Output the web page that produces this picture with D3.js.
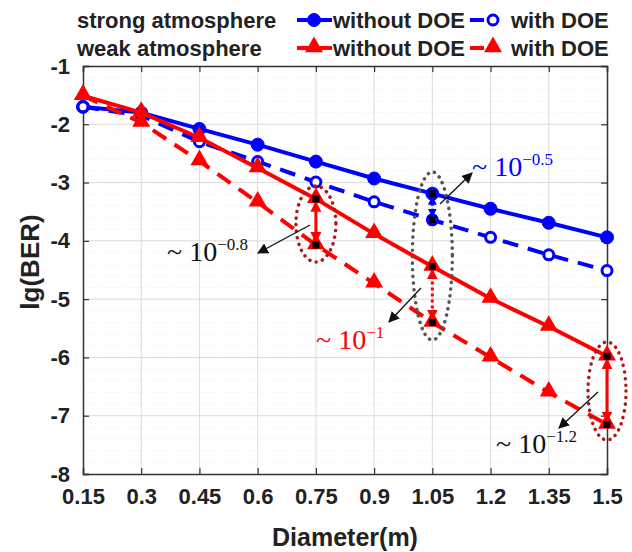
<!DOCTYPE html>
<html>
<head>
<meta charset="utf-8">
<script src="https://cdn.jsdelivr.net/npm/d3@7"></script>
<style>
  body { margin: 0; background: #fff; }
  svg { display: block; }
</style>
</head>
<body>
<div id="chart"></div>
<script>
// Data
var diameters = [0.15, 0.3, 0.45, 0.6, 0.75, 0.9, 1.05, 1.2, 1.35, 1.5];
var strongNoDoe = [-1.70, -1.80, -2.08, -2.35, -2.64, -2.93, -3.19, -3.45, -3.69, -3.94];
var strongDoe = [-1.70, -1.85, -2.30, -2.64, -2.99, -3.33, -3.64, -3.94, -4.24, -4.51];
var weakNoDoe = [-1.51, -1.80, -2.23, -2.75, -3.28, -3.88, -4.44, -4.99, -5.47, -5.98];
var weakDoe = [-1.51, -1.97, -2.63, -3.34, -4.07, -4.73, -5.40, -6.00, -6.60, -7.15];
var xTicks = [0.15, 0.3, 0.45, 0.6, 0.75, 0.9, 1.05, 1.2, 1.35, 1.5];
var yTicks = [-1, -2, -3, -4, -5, -6, -7, -8];

var chart_width = 632;
var chart_height = 552;
var blue = '#0000ff';
var red = '#ff0000';

var svg = d3.select('#chart')
  .append('svg')
  .attr('width', chart_width)
  .attr('height', chart_height)
  .style('font-family', '"Liberation Sans", Arial, sans-serif');

var xScale = d3.scaleLinear().domain([0.15, 1.5]).range([83, 607]);
var yScale = d3.scaleLinear().domain([-1, -8]).range([66, 474]);

// arrow heads
var defs = svg.append('defs');
function arrowHead(id, color, w) {
  defs.append('marker')
    .attr('id', id)
    .attr('viewBox', '0 0 10 10')
    .attr('refX', 9).attr('refY', 5)
    .attr('markerWidth', w).attr('markerHeight', w)
    .attr('markerUnits', 'userSpaceOnUse')
    .attr('orient', 'auto-start-reverse')
    .append('path')
    .attr('d', 'M0,0 L10,5 L0,10 z')
    .attr('fill', color);
}
arrowHead('ahBlack', '#111', 11);
arrowHead('ahRed', red, 11);
arrowHead('ahBlue', blue, 9);

// grid
var grid = svg.append('g');
grid.selectAll('.ymin')
  .data(d3.range(-1, -8, -0.2))
  .enter().append('line')
  .attr('x1', xScale(0.15)).attr('x2', xScale(1.5))
  .attr('y1', d => yScale(d)).attr('y2', d => yScale(d))
  .attr('stroke', '#ececec').attr('stroke-dasharray', '1,2');
grid.selectAll('.xg')
  .data(xTicks.slice(1, -1))
  .enter().append('line')
  .attr('x1', d => xScale(d)).attr('x2', d => xScale(d))
  .attr('y1', yScale(-1)).attr('y2', yScale(-8))
  .attr('stroke', '#dcdcdc');
grid.selectAll('.yg')
  .data(yTicks.slice(1, -1))
  .enter().append('line')
  .attr('x1', xScale(0.15)).attr('x2', xScale(1.5))
  .attr('y1', d => yScale(d)).attr('y2', d => yScale(d))
  .attr('stroke', '#dcdcdc');

// axes
var xAxis = d3.axisBottom(xScale).tickValues(xTicks).tickSize(-6).tickPadding(14).tickFormat(d => String(d));
var yAxis = d3.axisLeft(yScale).tickValues(yTicks).tickSize(-6).tickPadding(13).tickFormat(d => String(d));
var gx = svg.append('g').attr('transform', 'translate(0,' + yScale(-8) + ')').call(xAxis);
var gy = svg.append('g').attr('transform', 'translate(' + xScale(0.15) + ',0)').call(yAxis);
svg.append('g').attr('transform', 'translate(0,' + yScale(-1) + ')')
  .call(d3.axisTop(xScale).tickValues(xTicks).tickSize(-6).tickFormat(''));
svg.append('g').attr('transform', 'translate(' + xScale(1.5) + ',0)')
  .call(d3.axisRight(yScale).tickValues(yTicks).tickSize(-6).tickFormat(''));
svg.selectAll('.domain').attr('stroke', '#333').attr('stroke-width', 1.5);
svg.selectAll('.tick line').attr('stroke', '#333').attr('stroke-width', 1.2);
gx.selectAll('text').attr('font-size', 22).attr('font-weight', 'bold').attr('fill', '#222')
  .attr('font-family', '"Liberation Sans", Arial, sans-serif');
gy.selectAll('text').attr('font-size', 22).attr('font-weight', 'bold').attr('fill', '#222')
  .attr('font-family', '"Liberation Sans", Arial, sans-serif');

svg.append('text')
  .attr('x', 345).attr('y', 546)
  .attr('text-anchor', 'middle')
  .attr('font-size', 25).attr('font-weight', 'bold').attr('fill', '#222')
  .text('Diameter(m)');
svg.append('text')
  .attr('transform', 'translate(39,262) rotate(-90)')
  .attr('text-anchor', 'middle')
  .attr('font-size', 26).attr('font-weight', 'bold').attr('fill', '#222')
  .text('lg(BER)');

// series
var series = [
  { vals: strongNoDoe, color: blue, dash: null, shape: 'circle', open: false },
  { vals: strongDoe, color: blue, dash: '16,10', shape: 'circle', open: true },
  { vals: weakNoDoe, color: red, dash: null, shape: 'tri', open: false },
  { vals: weakDoe, color: red, dash: '16,10', shape: 'tri', open: false }
];
var line = d3.line().x(d => xScale(d[0])).y(d => yScale(d[1]));
var tri = d3.symbol().type(d3.symbolTriangle).size(140);

function drawMarker(g, s, cx, cy) {
  if (s.shape === 'circle') {
    g.append('circle')
      .attr('cx', cx).attr('cy', cy)
      .attr('r', s.open ? 5 : 6.5)
      .attr('fill', s.open ? '#fff' : s.color)
      .attr('stroke', s.color).attr('stroke-width', s.open ? 3 : 1);
  } else {
    g.append('path')
      .attr('d', tri)
      .attr('transform', 'translate(' + cx + ',' + (cy - 1) + ')')
      .attr('fill', s.color);
  }
}

series.forEach(function (s) {
  var pts = diameters.map((d, i) => [d, s.vals[i]]);
  var g = svg.append('g');
  g.append('path')
    .attr('d', line(pts))
    .attr('fill', 'none')
    .attr('stroke', s.color)
    .attr('stroke-width', 4)
    .attr('stroke-dasharray', s.dash);
  pts.forEach(p => drawMarker(g, s, xScale(p[0]), yScale(p[1])));
});

// difference annotations
var ann = svg.append('g');
function ellipse(cx, cy, rx, ry, color) {
  ann.append('ellipse')
    .attr('cx', cx).attr('cy', cy).attr('rx', rx).attr('ry', ry)
    .attr('fill', 'none').attr('stroke', color)
    .attr('stroke-width', 3.5).attr('stroke-dasharray', '0.1,6.5')
    .attr('stroke-linecap', 'round');
}
ellipse(xScale(0.75), 224, 20, 38, '#b01818');
ellipse(xScale(1.05), 256, 20, 84, '#555');
ellipse(xScale(1.5), 391, 19, 49, '#b01818');

function doubleArrow(xv, a, b, color, dotted, mk) {
  ann.append('line')
    .attr('x1', xScale(xv)).attr('x2', xScale(xv))
    .attr('y1', yScale(a) + 3).attr('y2', yScale(b) - 3)
    .attr('stroke', color).attr('stroke-width', 3)
    .attr('stroke-dasharray', dotted ? '3,3' : null)
    .attr('marker-start', 'url(#' + mk + ')')
    .attr('marker-end', 'url(#' + mk + ')');
}
doubleArrow(0.75, weakNoDoe[4], weakDoe[4], red, false, 'ahRed');
doubleArrow(1.05, weakNoDoe[6], weakDoe[6], red, true, 'ahRed');
doubleArrow(1.05, strongNoDoe[6], strongDoe[6], blue, true, 'ahBlue');
doubleArrow(1.5, weakNoDoe[9], weakDoe[9], red, false, 'ahRed');

var squares = [
  [0.75, weakNoDoe[4]], [0.75, weakDoe[4]],
  [1.05, strongNoDoe[6]], [1.05, strongDoe[6]],
  [1.05, weakNoDoe[6]], [1.05, weakDoe[6]],
  [1.5, weakNoDoe[9]], [1.5, weakDoe[9]]
];
ann.selectAll('.sq')
  .data(squares)
  .enter().append('rect')
  .attr('x', d => xScale(d[0]) - 3.5).attr('y', d => yScale(d[1]) - 3.5)
  .attr('width', 7).attr('height', 7)
  .attr('fill', '#000');

function pointer(x1, y1, x2, y2) {
  ann.append('line')
    .attr('x1', x1).attr('y1', y1).attr('x2', x2).attr('y2', y2)
    .attr('stroke', '#111').attr('stroke-width', 1.3)
    .attr('marker-end', 'url(#ahBlack)');
}
pointer(310, 225, 258, 253);
pointer(440, 204, 472, 173);
pointer(421, 288, 389, 322);
pointer(598, 392, 559, 428);

function powerLabel(x, y, exp, color) {
  var t = ann.append('text')
    .attr('x', x).attr('y', y)
    .attr('font-family', '"Liberation Serif", "DejaVu Serif", serif')
    .attr('font-size', 28).attr('fill', color);
  t.append('tspan').text('~ 10');
  t.append('tspan').attr('dy', -11).attr('font-size', 17).text('\u2212' + exp);
}
powerLabel(167, 261, '0.8', '#111');
powerLabel(472, 176, '0.5', blue);
powerLabel(316, 349, '1', red);
powerLabel(496, 453, '1.2', '#111');

// legend
var leg = svg.append('g').attr('font-size', 22).attr('font-weight', 'bold').attr('fill', '#222');
var legRows = [
  { label: 'strong atmosphere', y: 20, solid: series[0], dashed: series[1] },
  { label: 'weak atmosphere', y: 48, solid: series[2], dashed: series[3] }
];
legRows.forEach(function (r) {
  leg.append('text').attr('x', 77).attr('y', r.y + 8).text(r.label);
  leg.append('line')
    .attr('x1', 297).attr('x2', 332).attr('y1', r.y).attr('y2', r.y)
    .attr('stroke', r.solid.color).attr('stroke-width', 4);
  drawMarker(leg, r.solid, 314, r.y);
  leg.append('text').attr('x', 333).attr('y', r.y + 8).text('without DOE');
  leg.append('line')
    .attr('x1', 470).attr('x2', 484).attr('y1', r.y).attr('y2', r.y)
    .attr('stroke', r.dashed.color).attr('stroke-width', 4);
  drawMarker(leg, r.dashed, 493, r.y);
  leg.append('text').attr('x', 511).attr('y', r.y + 8).text('with DOE');
});
</script>
</body>
</html>
